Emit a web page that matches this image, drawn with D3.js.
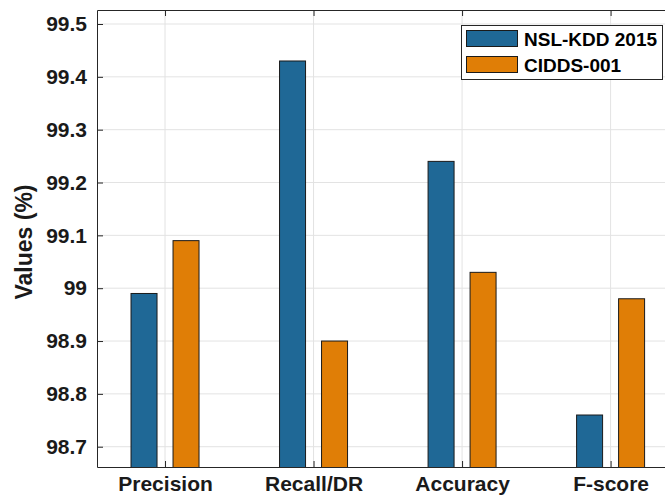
<!DOCTYPE html>
<html><head><meta charset="utf-8">
<script src="https://cdn.jsdelivr.net/npm/d3@7"></script>
<style>html,body{margin:0;padding:0;background:#fff;overflow:hidden}</style>
</head><body>
<svg id="chart" width="665" height="498"></svg>
<script>
const categories = ["Precision", "Recall/DR", "Accuracy", "F-score"];
const seriesNames = ["NSL-KDD 2015", "CIDDS-001"];
const nslKdd = [98.99, 99.43, 99.24, 98.76];
const cidds = [99.09, 98.90, 99.03, 98.98];
const yTicks = [98.7, 98.8, 98.9, 99.0, 99.1, 99.2, 99.3, 99.4, 99.5];
const yTickLabels = ["98.7", "98.8", "98.9", "99", "99.1", "99.2", "99.3", "99.4", "99.5"];
const colors = ["#1f6896", "#e07e06"];
const seriesValues = [nslKdd, cidds];

const svg = d3.select("#chart");
const L = 97, T = 10, B = 467, R = 670;
const font = "'Liberation Sans', Arial, Helvetica, sans-serif";

const x = d3.scaleLinear().domain([-0.458, 3.4]).range([L, R]);
const xSub = d3.scaleBand().domain(seriesNames).range([-34, 34]).paddingInner(0.381);
const y = d3.scaleLinear().domain([98.6616, 99.5265]).range([B, T]);

const clip = svg.append("clipPath").attr("id", "clip").append("rect")
  .attr("x", L).attr("y", T).attr("width", R - L).attr("height", B - T);

// grid
const g = svg.append("g");
g.selectAll(".gy").data(yTicks).enter().append("line")
  .attr("x1", L).attr("x2", R).attr("y1", d => y(d)).attr("y2", d => y(d))
  .attr("stroke", "#e3e3e3").attr("stroke-width", 1);
g.selectAll(".gx").data(categories).enter().append("line")
  .attr("x1", (d, i) => x(i)).attr("x2", (d, i) => x(i)).attr("y1", T).attr("y2", B)
  .attr("stroke", "#e3e3e3").attr("stroke-width", 1);

// bars
const bars = svg.append("g").attr("clip-path", "url(#clip)");
seriesNames.forEach((s, si) => {
  bars.selectAll(".b" + si).data(seriesValues[si]).enter().append("rect")
    .attr("x", (d, i) => x(i) + xSub(s))
    .attr("width", xSub.bandwidth())
    .attr("y", d => y(d))
    .attr("height", d => B - y(d) + 2)
    .attr("fill", colors[si])
    .attr("stroke", "#1a1a1a").attr("stroke-width", 1);
});

// axes
const axL = d3.axisLeft(y).tickValues(yTicks).tickFormat((d, i) => yTickLabels[i]).tickSizeInner(-6).tickSizeOuter(0).tickPadding(10);
const ayG = svg.append("g").attr("transform", `translate(${L},0)`).call(axL);
const axB = d3.axisBottom(x).tickValues(d3.range(categories.length)).tickFormat(i => categories[i]).tickSizeInner(-6).tickSizeOuter(0).tickPadding(9);
const axG = svg.append("g").attr("transform", `translate(0,${B})`).call(axB);
const axT = d3.axisTop(x).tickValues(d3.range(categories.length)).tickFormat("").tickSizeInner(-6).tickSizeOuter(0);
const atG = svg.append("g").attr("transform", `translate(0,${T})`).call(axT);
[ayG, axG, atG].forEach(a => {
  a.select(".domain").attr("stroke", "#262626").attr("stroke-width", 1);
  a.selectAll(".tick line").attr("stroke", "#262626");
  a.selectAll("text").attr("font-family", font).attr("font-weight", "bold")
    .attr("font-size", 21).attr("fill", "#1a1a1a");
});
axG.selectAll("text").attr("dy", "0.71em");

// y title
svg.append("text").attr("transform", `translate(32,242) rotate(-90)`)
  .attr("text-anchor", "middle").attr("font-family", font).attr("font-weight", "bold")
  .attr("font-size", 23).attr("fill", "#1a1a1a").text("Values (%)");

// legend
const lg = svg.append("g");
lg.append("rect").attr("x", 461.5).attr("y", 25.5).attr("width", 201).attr("height", 54)
  .attr("fill", "#fff").attr("stroke", "#262626").attr("stroke-width", 1);
seriesNames.forEach((s, i) => {
  lg.append("rect").attr("x", 466.5).attr("y", 30.5 + i * 26).attr("width", 51).attr("height", 16)
    .attr("fill", colors[i]).attr("stroke", "#1a1a1a").attr("stroke-width", 1);
  lg.append("text").attr("x", 524).attr("y", 39 + i * 26).attr("dy", "0.35em")
    .attr("font-family", font).attr("font-weight", "bold").attr("font-size", 19)
    .attr("fill", "#000").text(s);
});
</script>
</body></html>
